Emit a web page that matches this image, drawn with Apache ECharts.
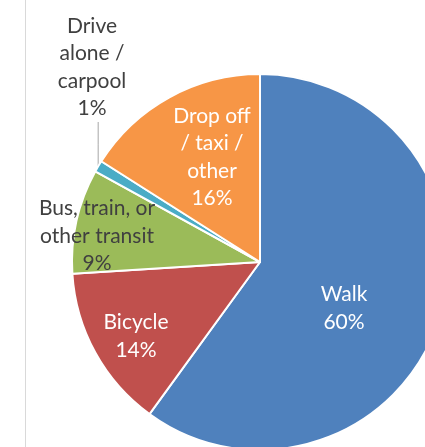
<!DOCTYPE html>
<html>
<head>
<meta charset="utf-8">
<script src="https://cdn.jsdelivr.net/npm/echarts@6/dist/echarts.min.js"></script>
<style>
html,body{margin:0;padding:0;background:#fff;}
#c{width:425px;height:447px;}
</style>
</head>
<body>
<div id="c"></div>
<script>
const categories = ['Walk', 'Bicycle', 'Bus, train, or\nother transit', 'Drive\nalone /\ncarpool', 'Drop off\n/ taxi /\nother'];
const values = [60, 14, 9, 1, 16];
const colors = ['#4F81BD', '#C0504D', '#9BBB59', '#4BACC6', '#F79646'];
const labelColors = ['#ffffff', '#ffffff', '#404040', '#404040', '#ffffff'];
const labelPos = [[344, 308], [136, 336], [97, 236], [92, 67], [212, 157]];
const LH = 27.5;

const chart = echarts.init(document.getElementById('c'));
chart.setOption({
  animation: false,
  graphic: [{
    type: 'line', shape: {x1: 25.5, y1: 0, x2: 25.5, y2: 447},
    style: {stroke: '#d9d9d9', lineWidth: 1}, z: -1
  }],
  series: [{
    type: 'pie',
    center: [260, 262],
    radius: 188,
    startAngle: 90,
    clockwise: true,
    avoidLabelOverlap: false,
    itemStyle: {borderColor: '#ffffff', borderWidth: 2},
    label: {
      show: true,
      position: 'inside',
      fontFamily: 'Lato',
      fontSize: 21,
      lineHeight: LH,
      formatter: p => p.name + '\n' + p.value + '%'
    },
    labelLine: {show: false},
    labelLayout: p => {
      const pos = labelPos[p.dataIndex];
      const out = {x: pos[0], y: pos[1], align: 'center', verticalAlign: 'middle'};
      if (p.dataIndex === 3 && p.labelLinePoints) {
        const a = p.labelLinePoints[0];
        const bottom = pos[1] + 2 * LH;
        out.labelLinePoints = [[a[0], a[1]], [a[0], (a[1] + bottom) / 2], [a[0], bottom]];
      }
      return out;
    },
    data: categories.map((c, i) => ({
      name: c,
      value: values[i],
      itemStyle: {color: colors[i]},
      label: {color: labelColors[i], position: i === 3 ? 'outside' : 'inside'},
      labelLine: i === 3 ? {show: true, length: 10, length2: 10, lineStyle: {color: '#a6a6a6', width: 1}} : {show: false}
    }))
  }]
});
</script>
</body>
</html>
